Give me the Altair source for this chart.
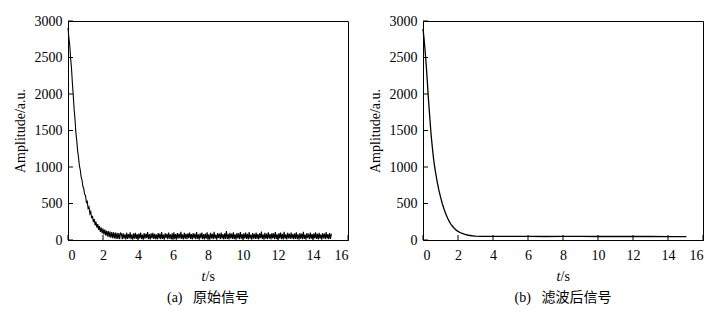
import altair as alt
import pandas as pd

# ---------------- data ----------------
x_ticks = [0, 2, 4, 6, 8, 10, 12, 14, 16]
y_ticks = [0, 500, 1000, 1500, 2000, 2500, 3000]

# raw (noisy) signal, sampled every 0.05 s
amp_raw = [
    2905, 2770, 2668, 2488, 2352, 2150, 1985, 1792, 1655, 1471,
    1362, 1221, 1133, 1019, 962, 866, 822, 736, 702, 627,
    610, 515, 530, 432, 452, 360, 388, 298, 330, 245,
    285, 200, 250, 168, 218, 138, 192, 112, 170, 92,
    155, 76, 142, 62, 130, 50, 122, 40, 115, 32,
    110, 26, 104, 20, 100, 16, 98, 14, 96, 12, 94,
    84, 12, 93, 18, 78, 7, 100, 15, 82, 23, 104, 10, 76, 6, 91, 19, 97, 14, 80, 9,
    89, 21, 102, 13, 74, 5, 95, 17, 86, 26, 107, 11, 81, 8, 92, 22, 99, 16, 83, 12,
    78, 7, 96, 20, 88, 10, 110, 15, 75, 4, 93, 24, 85, 13, 101, 18, 79, 9, 90, 16,
    105, 12, 82, 6, 94, 23, 87, 17, 113, 14, 77, 8, 98, 19, 84, 11, 91, 25, 103, 15,
    80, 7, 96, 21, 86, 10, 108, 16, 76, 5, 92, 22, 100, 13, 82, 9, 89, 18, 106, 14,
    79, 6, 97, 20, 85, 12, 111, 17, 74, 4, 95, 24, 88, 11, 102, 19, 81, 8, 93, 15,
    124, 13, 83, 7, 98, 21, 87, 16, 104, 12, 78, 6, 94, 23, 90, 10, 107, 18, 80, 9,
    92, 22, 101, 14, 84, 8, 109, 17, 75, 5, 96, 20, 86, 13, 103, 16, 82, 7, 91, 24,
    114, 15, 77, 6, 99, 19, 88, 11, 105, 18, 81, 8, 95, 22, 90, 12, 108, 16, 76, 4,
    93, 21, 100, 13, 85, 9, 111, 18, 79, 7, 97, 23, 87, 14, 102, 17, 83, 10, 92, 15,
    106, 12, 78, 6, 96, 20, 89, 11, 112, 16, 75, 5, 94, 24, 86, 13, 101, 18, 81, 8,
    91, 22, 104, 14, 84, 9, 98, 17, 77, 6, 93, 21, 88, 12, 107, 19, 80, 10, 95, 15,
    86,
]
t_raw = [round(i * 0.05, 2) for i in range(len(amp_raw))]

# filtered signal
t_filt = [0, 0.05, 0.1, 0.15, 0.2, 0.25, 0.3, 0.35, 0.4, 0.45, 0.5, 0.55, 0.6,
          0.65, 0.7, 0.8, 0.9, 1.0, 1.1, 1.2, 1.3, 1.4, 1.5, 1.6, 1.7, 1.8, 1.9,
          2.0, 2.2, 2.4, 2.6, 2.8, 3.0, 3.3, 3.6, 4.0, 5, 6, 7, 8, 9, 10, 11, 12,
          13, 14, 15.05]
amp_filt = [2890, 2780, 2650, 2500, 2340, 2160, 1970, 1800, 1640, 1480, 1350,
            1230, 1120, 1030, 950, 810, 690, 590, 500, 425, 360, 300, 255, 215,
            185, 158, 135, 118, 93, 76, 65, 58, 54, 51, 50, 49, 49, 49, 48, 49,
            49, 48, 48, 48, 48, 47, 47]

captions = ["(a)\u2002\u2005原始信号", "(b)\u2002\u2005滤波后信号"]

# ---------------- chart ----------------
W, H = 280, 219
FS = 14
SERIF = "Liberation Serif, Times New Roman, serif"
CAP_FONT = "Liberation Serif, Noto Sans CJK SC, serif"

x_scale = alt.Scale(domain=[0, 16], nice=False)
y_scale = alt.Scale(domain=[0, 3000], nice=False)
x_axis = alt.Axis(values=x_ticks, ticks=False, title=None, labelPadding=8,
                  grid=False, format="d")
y_axis = alt.Axis(values=y_ticks, ticks=False, title="Amplitude/a.u.",
                  labelPadding=6, titlePadding=7, grid=False, format="d")
one = alt.Data(values=[{"k": 0}])


def panel(t, amp, caption, sw):
    df = pd.DataFrame({"t": t, "amp": amp})
    line = alt.Chart(df).mark_line(color="black", strokeWidth=sw).encode(
        x=alt.X("t:Q", scale=x_scale, axis=x_axis),
        y=alt.Y("amp:Q", scale=y_scale, axis=y_axis),
    )
    ytk = alt.Chart(pd.DataFrame({"amp": y_ticks})).mark_rule(
        color="black", strokeWidth=1).encode(
        y=alt.Y("amp:Q", scale=y_scale, axis=y_axis),
        x=alt.value(0), x2=alt.value(5))
    xtk = alt.Chart(pd.DataFrame({"t": x_ticks})).mark_rule(
        color="black", strokeWidth=1).encode(
        x=alt.X("t:Q", scale=x_scale, axis=x_axis),
        y=alt.value(H), y2=alt.value(H - 5))
    t_lab = alt.Chart(one).mark_text(
        font=SERIF, fontSize=FS, fontStyle="italic", align="right",
        baseline="middle", color="black").encode(
        x=alt.value(W / 2 - 2.5), y=alt.value(H + 37), text=alt.value("t"))
    s_lab = alt.Chart(one).mark_text(
        font=SERIF, fontSize=FS, align="left", baseline="middle",
        color="black").encode(
        x=alt.value(W / 2 - 2.5), y=alt.value(H + 37), text=alt.value("/s"))
    cap = alt.Chart(one).mark_text(
        font=CAP_FONT, fontSize=FS, align="center", baseline="middle",
        color="black").encode(
        x=alt.value(W / 2), y=alt.value(H + 58), text=alt.value(caption))
    return alt.layer(line, ytk, xtk, t_lab, s_lab, cap).properties(
        width=W, height=H)


chart = alt.hconcat(
    panel(t_raw, amp_raw, captions[0], 1.1),
    panel(t_filt, amp_filt, captions[1], 1.3),
    spacing=18,
).properties(
    padding={"left": 12, "top": 13, "right": 5, "bottom": 5},
    background="white",
).configure_view(
    stroke="black", strokeWidth=1
).configure_axis(
    domainColor="black", domainWidth=1,
    labelFont=SERIF, labelFontSize=FS, labelColor="black",
    titleFont=SERIF, titleFontSize=FS, titleFontWeight="normal",
    titleColor="black",
)

chart.save("out.html", embed_options={"renderer": "svg", "actions": False})
